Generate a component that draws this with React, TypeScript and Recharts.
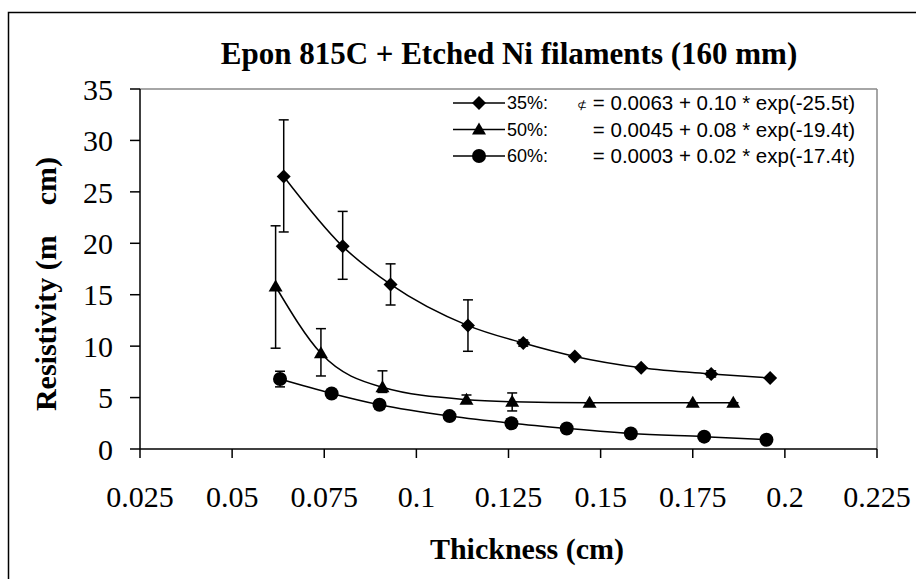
import { ScatterChart, Scatter, XAxis, YAxis, ErrorBar, ReferenceLine } from 'recharts';

// thickness (cm), resistivity, error bars
const thick35 = [0.064, 0.080, 0.093, 0.114, 0.129, 0.143, 0.161, 0.180, 0.196];
const res35 = [26.5, 19.7, 16.0, 12.0, 10.3, 9.0, 7.9, 7.3, 6.9];
const errLow35 = [5.4, 3.2, 2.0, 2.5, 0.3, 0, 0, 0.3, 0];
const errHigh35 = [5.5, 3.4, 2.0, 2.5, 0.3, 0, 0, 0.3, 0];

const thick50 = [0.0618, 0.0741, 0.0908, 0.1136, 0.126, 0.147, 0.175, 0.186];
const res50 = [15.8, 9.3, 6.0, 4.8, 4.6, 4.5, 4.5, 4.5];
const errLow50 = [6.0, 2.2, 0.5, 0.3, 0.9, 0, 0, 0];
const errHigh50 = [5.9, 2.4, 1.6, 0.45, 0.85, 0, 0, 0];

const thick60 = [0.063, 0.077, 0.090, 0.109, 0.1258, 0.1408, 0.1582, 0.1781, 0.195];
const res60 = [6.8, 5.4, 4.3, 3.2, 2.5, 2.0, 1.5, 1.2, 0.9];
const err60 = [0.76, 0, 0.4, 0.3, 0.4, 0, 0, 0, 0];

const xTicks = [0.025, 0.05, 0.075, 0.1, 0.125, 0.15, 0.175, 0.2, 0.225];
const yTicks = [0, 5, 10, 15, 20, 25, 30, 35];

const legendRows = [
  { label: '35%:', eq: '= 0.0063 + 0.10 * exp(-25.5t)', shape: 'diamond' },
  { label: '50%:', eq: '= 0.0045 + 0.08 * exp(-19.4t)', shape: 'triangle' },
  { label: '60%:', eq: '= 0.0003 + 0.02 * exp(-17.4t)', shape: 'circle' },
];

const toRows = (xs: number[], ys: number[], lo: number[], hi: number[]) =>
  xs.map((x, i) => ({ x, y: ys[i], err: [lo[i], hi[i]] }));

const data35 = toRows(thick35, res35, errLow35, errHigh35);
const data50 = toRows(thick50, res50, errLow50, errHigh50);
const data60 = toRows(thick60, res60, err60, err60);

function Marker({ cx, cy, kind }: any) {
  if (cx == null || cy == null) return null;
  if (kind === 'diamond') {
    const r = 7;
    return <polygon points={`${cx},${cy - r} ${cx + r},${cy} ${cx},${cy + r} ${cx - r},${cy}`} fill="#000" />;
  }
  if (kind === 'triangle') {
    return <polygon points={`${cx},${cy - 7} ${cx + 7},${cy + 5} ${cx - 7},${cy + 5}`} fill="#000" />;
  }
  return <circle cx={cx} cy={cy} r={7} fill="#000" />;
}

const serif = '"Liberation Serif", "Times New Roman", serif';
const sans = '"Liberation Sans", Arial, sans-serif';

export default function App() {
  return (
    <div style={{ position: 'absolute', left: 0, top: 0, width: 916, height: 579, background: '#fff', overflow: 'hidden' }}>
      <ScatterChart width={916} height={579} margin={{ top: 89, right: 39, left: 0, bottom: 70 }}>
        <XAxis
          type="number"
          dataKey="x"
          domain={[0.025, 0.225]}
          ticks={xTicks}
          tickFormatter={(v: number) => String(v)}
          tickSize={9}
          tickMargin={28}
          height={60}
          stroke="#000"
          strokeWidth={1.5}
          tick={{ fill: '#000', fontSize: 30, fontFamily: serif }}
          allowDataOverflow
        />
        <YAxis
          type="number"
          dataKey="y"
          domain={[0, 35]}
          ticks={yTicks}
          tickSize={10}
          tickMargin={17}
          width={140}
          stroke="#000"
          strokeWidth={1.5}
          tick={{ fill: '#000', fontSize: 30, fontFamily: serif }}
        />
        <ReferenceLine y={35} stroke="#888" strokeWidth={1.5} />
        <ReferenceLine x={0.225} stroke="#888" strokeWidth={1.5} />
        <Scatter
          data={data35}
          isAnimationActive={false}
          line={{ stroke: '#000', strokeWidth: 1.5 }}
          lineJointType="monotoneX"
          shape={(p: any) => <Marker {...p} kind="diamond" />}
        >
          <ErrorBar dataKey="err" direction="y" width={5} stroke="#000" strokeWidth={1.5} />
        </Scatter>
        <Scatter
          data={data50}
          isAnimationActive={false}
          line={{ stroke: '#000', strokeWidth: 1.5 }}
          lineJointType="monotoneX"
          shape={(p: any) => <Marker {...p} kind="triangle" />}
        >
          <ErrorBar dataKey="err" direction="y" width={5} stroke="#000" strokeWidth={1.5} />
        </Scatter>
        <Scatter
          data={data60}
          isAnimationActive={false}
          line={{ stroke: '#000', strokeWidth: 1.5 }}
          lineJointType="monotoneX"
          shape={(p: any) => <Marker {...p} kind="circle" />}
        >
          <ErrorBar dataKey="err" direction="y" width={5} stroke="#000" strokeWidth={1.5} />
        </Scatter>
      </ScatterChart>

      {/* titles, frame and legend */}
      <svg width={916} height={579} style={{ position: 'absolute', left: 0, top: 0, pointerEvents: 'none' }}>
        <rect x={8.5} y={12.5} width={1000} height={1000} fill="none" stroke="#000" strokeWidth={1.5} />
        <text x={509} y={64} textAnchor="middle" fontFamily={serif} fontWeight="bold" fontSize={31}>
          Epon 815C + Etched Ni filaments (160 mm)
        </text>
        <text x={527} y={559} textAnchor="middle" fontFamily={serif} fontWeight="bold" fontSize={30}>
          Thickness (cm)
        </text>
        <text
          x={0}
          y={0}
          transform="translate(56,284) rotate(-90)"
          textAnchor="middle"
          fontFamily={serif}
          fontWeight="bold"
          fontSize={30}
          style={{ whiteSpace: 'pre' }}
        >
          {'Resistivity (m    cm)'}
        </text>
        {legendRows.map((r, i) => {
          const y = 103 + i * 26.5;
          return (
            <g key={r.label}>
              <line x1={453} x2={505} y1={y} y2={y} stroke="#000" strokeWidth={1.5} />
              <Marker cx={479} cy={y} kind={r.shape} />
              <text x={507} y={y + 6} fontFamily={sans} fontSize={18}>{r.label}</text>
              <text x={855} y={y + 7} textAnchor="end" fontFamily={sans} fontSize={20.5}>{r.eq}</text>
              {i === 0 && (
                <text x={577} y={y + 6} fontFamily={sans} fontSize={12}>⊄</text>
              )}
            </g>
          );
        })}
      </svg>
    </div>
  );
}
